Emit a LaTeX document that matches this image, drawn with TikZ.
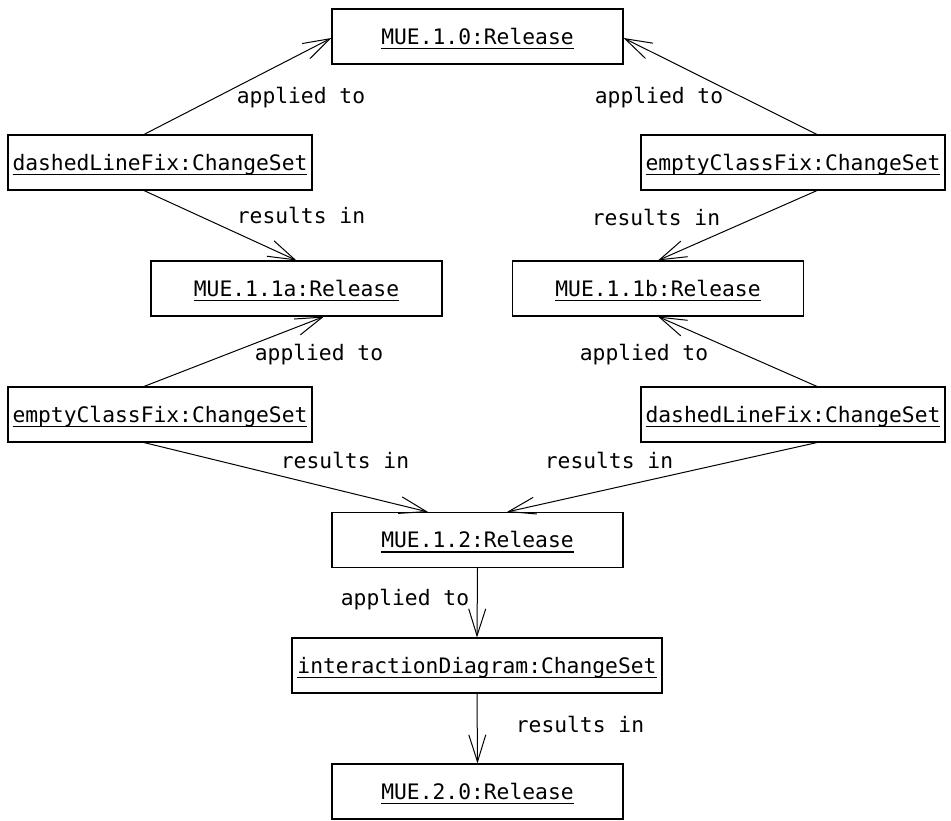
\documentclass[tikz,border=0pt]{standalone}
\usepackage{fontspec}
\setmonofont{DejaVu Sans Mono}
\usetikzlibrary{arrows.meta,calc}
\newcommand\ulbox[1]{\setbox0\hbox{#1}\rlap{\rule[-5pt]{\wd0}{1.5pt}}\box0}
\begin{document}
\begin{tikzpicture}[x=1pt,y=-1pt,
  txt/.style={font=\ttfamily\fontsize{21.3}{25}\selectfont, text height=15.5pt, text depth=0pt},
  obj/.style={txt, draw, line width=1.1pt, minimum height=55pt, inner sep=0pt},
  lbl/.style={txt, inner sep=0pt},
  conn/.style={line width=1pt, -{Straight Barb[length=27pt,width=17pt,line width=1pt]}}]
\useasboundingbox (0,0) rectangle (951,820);
\node[obj, minimum width=291pt] (r10)  at (477.5,36.5) {\ulbox{MUE.1.0:Release}};
\node[obj, minimum width=304pt] (L1)   at (160,162.5) {\ulbox{dashedLineFix:ChangeSet}};
\node[obj, minimum width=304pt] (R1)   at (793,162.5) {\ulbox{emptyClassFix:ChangeSet}};
\node[obj, minimum width=291pt] (r11a) at (296.5,288.5) {\ulbox{MUE.1.1a:Release}};
\node[obj, minimum width=291pt] (r11b) at (658,288.5) {\ulbox{MUE.1.1b:Release}};
\node[obj, minimum width=304pt] (L3)   at (160,414.5) {\ulbox{emptyClassFix:ChangeSet}};
\node[obj, minimum width=304pt] (R3)   at (793,414.5) {\ulbox{dashedLineFix:ChangeSet}};
\node[obj, minimum width=291pt] (r12)  at (477.5,540) {\ulbox{MUE.1.2:Release}};
\node[obj, minimum width=370pt] (ix)   at (477,665.5) {\ulbox{interactionDiagram:ChangeSet}};
\node[obj, minimum width=291pt] (r20)  at (477.5,791.5) {\ulbox{MUE.2.0:Release}};

\draw[conn] ($(L1.north)+(-16,0)$) -- ($(r10.west)+(0,1.5)$);
\draw[conn] ($(R1.north)+(24,0)$) -- ($(r10.east)+(0,1.5)$);
\draw[conn] ($(L1.south)+(-16,0)$) -- (r11a.north);
\draw[conn] ($(R1.south)+(24,0)$) -- (r11b.north);
\draw[conn] ($(L3.north)+(-16,0)$) -- ($(r11a.south)+(27.5,0)$);
\draw[conn] ($(R3.north)+(24,0)$) -- (r11b.south);
\draw[conn] ($(L3.south)+(-16,0)$) -- ($(r12.north)+(-49.5,0)$);
\draw[conn] ($(R3.south)+(24,0)$) -- ($(r12.north)+(29.5,0)$);
\draw[conn] (r12.south) -- (ix.north);
\draw[conn] (ix.south) -- (r20.north);

\node[lbl] (la1) at (301,96) {applied to};
\node[lbl] (la2) at (659,96) {applied to};
\node[lbl] (lr1) at (301,216) {results in};
\node[lbl] (lr2) at (656,218) {results in};
\node[lbl] (la3) at (319,353) {applied to};
\node[lbl] (la4) at (644,353) {applied to};
\node[lbl] (lr3) at (345,461) {results in};
\node[lbl] (lr4) at (609,461) {results in};
\node[lbl] (la5) at (405,598) {applied to};
\node[lbl] (lr5) at (580,725) {results in};
\end{tikzpicture}
\end{document}
